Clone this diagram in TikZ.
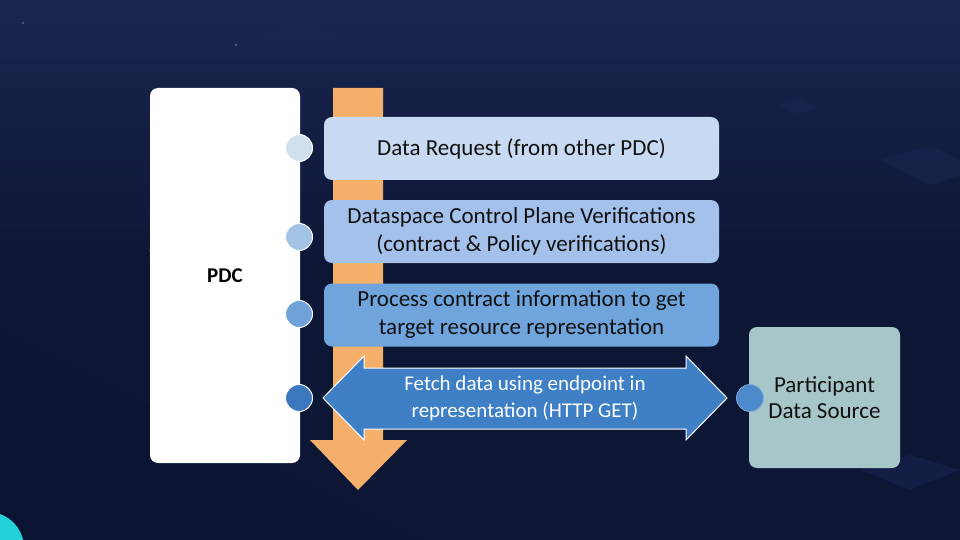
\documentclass[tikz,border=0pt]{standalone}
\usepackage{fontspec}
\setmainfont{Carlito}
\definecolor{bgnavy}{HTML}{0E1636}
\definecolor{bgdeep}{HTML}{0A1130}
\definecolor{bglite}{HTML}{1A2650}
\definecolor{orangearr}{HTML}{F4B06A}
\definecolor{boxa}{HTML}{C8D9F2}
\definecolor{boxb}{HTML}{A4C1EC}
\definecolor{boxc}{HTML}{6FA5DC}
\definecolor{fetchblue}{HTML}{3E7FC6}
\definecolor{dota}{HTML}{CFE0EF}
\definecolor{dotb}{HTML}{A3C3E4}
\definecolor{dotc}{HTML}{6EA2D8}
\definecolor{dotd}{HTML}{3B78BF}
\definecolor{dote}{HTML}{4C8ACB}
\definecolor{partbox}{HTML}{A7C6CA}
\definecolor{tealblob}{HTML}{22D2D8}
\definecolor{txt}{HTML}{111111}
\tikzset{
  stepbox/.style={draw=none, rounded corners=8pt, inner sep=0pt, align=center,
    minimum width=395pt, minimum height=63pt, font=\fontsize{23}{28}\selectfont, text=txt},
  knob/.style={circle, draw=white, line width=1pt, minimum size=27pt, inner sep=0pt},
  faint/.style={fill=white, opacity=0.22},
  tile/.style={fill=bglite, opacity=0.55},
}
\begin{document}
\begin{tikzpicture}[x=1pt, y=-1pt]
\useasboundingbox (0,0) rectangle (960,540);
% background
\shade[top color=bglite, bottom color=bgnavy, middle color=bgnavy] (0,0) rectangle (960,540);
\fill[bgdeep, opacity=0.6] (0,540) -- (0,330) -- (420,540) -- cycle;
\fill[tile] (250,40) -- (300,25) -- (350,40) -- (300,55) -- cycle;
\fill[tile] (880,160) -- (930,145) -- (960,160) -- (960,175) -- (930,185) -- cycle;
\fill[tile] (780,105) -- (800,98) -- (815,108) -- (795,116) -- cycle;
\fill[tile] (860,470) -- (910,455) -- (960,470) -- (910,490) -- cycle;
\foreach \px/\py in {683,80/ 755,105/ 765,110/ 775,117/ 774,163/ 930,70/ 928,114/ 872,236/ 45,150/ 250,40/ 620,23}
  \fill[faint] (\px,\py) circle (1.5pt);
\fill[tealblob] (-12,548) circle (36pt);
% orange process arrow
\fill[orangearr] (333,88) -- (383,88) -- (383,440) -- (407,440) -- (358,490) -- (310,440) -- (333,440) -- cycle;
% PDC
\node[fill=white, rounded corners=8pt, minimum width=150pt, minimum height=375pt, inner sep=0pt,
  font=\fontsize{21}{25}\selectfont\bfseries, text=black] (pdc) at (225,275.5) {PDC};
% step boxes
\node[stepbox, fill=boxa] (r1) at (521.5,148.5) {Data Request (from other PDC)};
\node[stepbox, fill=boxb] (r2) at (521.5,231.5) {Dataspace Control Plane Verifications\\(contract \& Policy verifications)};
\node[stepbox, fill=boxc] (r3) at (521.5,315) {Process contract information to get\\target resource representation};
% fetch double arrow
\fill[fetchblue, draw=white, line width=1pt] (323,398) -- (364,356) -- (364,368) -- (686,368) -- (686,356) -- (727,398)
  -- (686,440) -- (686,429) -- (364,429) -- (364,440) -- cycle;
\node[text=white, align=center, font=\fontsize{21}{27}\selectfont] (fetch) at (525,398) {Fetch data using endpoint in\\representation (HTTP GET)};
% participant
\node[fill=partbox, rounded corners=8pt, minimum width=151pt, minimum height=141pt, inner sep=0pt,
  align=center, font=\fontsize{23}{26}\selectfont, text=txt] (src) at (824.5,397.5) {Participant\\Data Source};
% knobs
\node[knob, fill=dota] (k1) at (299,148) {};
\node[knob, fill=dotb] (k2) at (299,237) {};
\node[knob, fill=dotc] (k3) at (299,314) {};
\node[knob, fill=dotd] (k4) at (299,398) {};
\node[circle, fill=dote, draw=dote!70!white, line width=0.8pt, minimum size=27pt, inner sep=0pt] (k5) at (750,398) {};
\end{tikzpicture}
\end{document}
